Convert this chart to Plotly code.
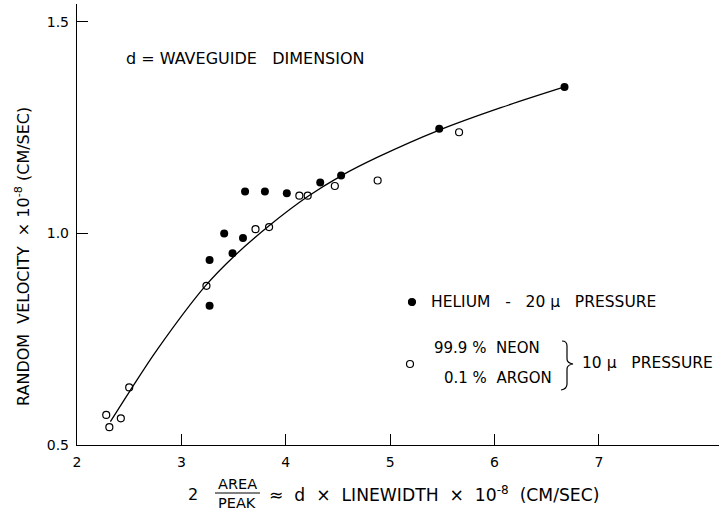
import plotly.graph_objects as go

# Helium, 20 micron pressure (filled circles)
helium_x = [3.27, 3.27, 3.41, 3.49, 3.59, 3.61, 3.80, 4.01, 4.33, 4.53, 5.47, 6.67]
helium_y = [0.829, 0.937, 1.000, 0.953, 0.989, 1.099, 1.099, 1.095, 1.120, 1.137, 1.247, 1.346]

# 99.9% neon / 0.1% argon, 10 micron pressure (open circles)
neon_x = [2.28, 2.31, 2.42, 2.50, 3.24, 3.71, 3.84, 4.13, 4.21, 4.47, 4.88, 5.66]
neon_y = [0.571, 0.542, 0.563, 0.636, 0.876, 1.010, 1.015, 1.089, 1.089, 1.112, 1.125, 1.239]

# Smooth curve drawn through the data
curve_x = [2.32, 2.50, 2.77, 3.23, 3.50, 3.84, 4.21, 4.53, 4.88, 5.47, 6.06, 6.67]
curve_y = [0.555, 0.625, 0.726, 0.876, 0.945, 1.018, 1.087, 1.136, 1.180, 1.244, 1.297, 1.346]

x_ticks = [2, 3, 4, 5, 6, 7]
y_ticks = [0.5, 1.0, 1.5]
y_tick_text = ["0.5", "1.0", "1.5"]

FONT = "DejaVu Sans"
W, H = 722, 517
ML, MR, MT, MB = 77, 3, 4, 72
PW, PH = W - ML - MR, H - MT - MB


def px(x):
    return (x - ML) / PW


def py(y):
    return (H - MB - y) / PH


fig = go.Figure()

fig.add_trace(go.Scatter(
    x=curve_x, y=curve_y, mode="lines",
    line=dict(color="black", width=1.3, shape="spline", smoothing=1.0),
    hoverinfo="skip", showlegend=False))

fig.add_trace(go.Scatter(
    x=helium_x, y=helium_y, mode="markers",
    marker=dict(symbol="circle", size=8, color="black", line=dict(width=0)),
    name="HELIUM - 20 μ PRESSURE", showlegend=False))

fig.add_trace(go.Scatter(
    x=neon_x, y=neon_y, mode="markers",
    marker=dict(symbol="circle-open", size=7, color="black", line=dict(width=1.2, color="black")),
    name="99.9 % NEON / 0.1 % ARGON", showlegend=False))

ann = []


def text(x, y, s, size=15, xanchor="left", **kw):
    ann.append(dict(x=px(x), y=py(y), xref="paper", yref="paper", text=s, showarrow=False,
                    xanchor=xanchor, yanchor="middle",
                    font=dict(family=FONT, size=size, color="black"), **kw))


text(124, 58, "d = WAVEGUIDE   DIMENSION", size=16)

# legend
text(429, 302, "HELIUM   -   20 μ   PRESSURE", size=15.5)
text(432, 348, "99.9 %  NEON", size=15)
text(442, 378, "0.1 %  ARGON", size=15)
text(580, 363, "10 μ   PRESSURE", size=15.5)

# axis titles
ann.append(dict(x=px(22), y=py(257), xref="paper", yref="paper",
                text="RANDOM  VELOCITY  × 10<sup>-8</sup> (CM/SEC)", showarrow=False, textangle=-90,
                xanchor="center", yanchor="middle",
                font=dict(family=FONT, size=16, color="black")))
text(193, 494, "2", size=16, xanchor="center")
text(237, 484, "AREA", size=14.5, xanchor="center")
text(237, 503, "PEAK", size=14.5, xanchor="center")
text(267, 494, "≈  d  ×  LINEWIDTH  ×  10<sup>-8</sup>  (CM/SEC)", size=17.2)

shapes = []
# legend symbols
for cx, cy, filled in [(412, 302, True), (410, 364, False)]:
    shapes.append(dict(type="circle", xref="paper", yref="paper", xsizemode="pixel", ysizemode="pixel",
                       xanchor=px(cx), yanchor=py(cy), x0=-3.5, x1=3.5, y0=-3.5, y1=3.5,
                       fillcolor="black" if filled else "white", line=dict(color="black", width=1.2)))

# brace grouping the neon/argon entries
bpts = [(562, 341), (567, 341), (567, 346), (567, 359), (567, 363), (573, 364),
        (567, 365), (567, 369), (567, 384), (567, 389), (561, 390)]
p = [(px(a), py(b)) for a, b in bpts]
path = (f"M {p[0][0]},{p[0][1]} Q {p[1][0]},{p[1][1]} {p[2][0]},{p[2][1]} L {p[3][0]},{p[3][1]} "
        f"Q {p[4][0]},{p[4][1]} {p[5][0]},{p[5][1]} Q {p[6][0]},{p[6][1]} {p[7][0]},{p[7][1]} "
        f"L {p[8][0]},{p[8][1]} Q {p[9][0]},{p[9][1]} {p[10][0]},{p[10][1]}")
shapes.append(dict(type="path", xref="paper", yref="paper", path=path, line=dict(color="black", width=1.2)))

# fraction bar
shapes.append(dict(type="line", xref="paper", yref="paper", x0=px(215), x1=px(260), y0=py(493), y1=py(493),
                   line=dict(color="black", width=1)))

axis_common = dict(showline=True, linecolor="black", linewidth=1.4, ticks="inside", ticklen=11,
                   tickwidth=1.2, tickcolor="black", showgrid=False, zeroline=False,
                   tickfont=dict(family=FONT, size=14, color="black"))

fig.update_layout(
    width=W, height=H, margin=dict(l=ML, r=MR, t=MT, b=MB),
    paper_bgcolor="white", plot_bgcolor="white",
    xaxis=dict(range=[2, 8.15], tickvals=x_ticks, ticktext=[str(v) for v in x_ticks],
               ticklabelstandoff=4, **axis_common),
    yaxis=dict(range=[0.5, 1.542], tickvals=y_ticks, ticktext=y_tick_text,
               ticklabelstandoff=4, **axis_common),
    annotations=ann, shapes=shapes,
)

fig.write_html("out.html")
